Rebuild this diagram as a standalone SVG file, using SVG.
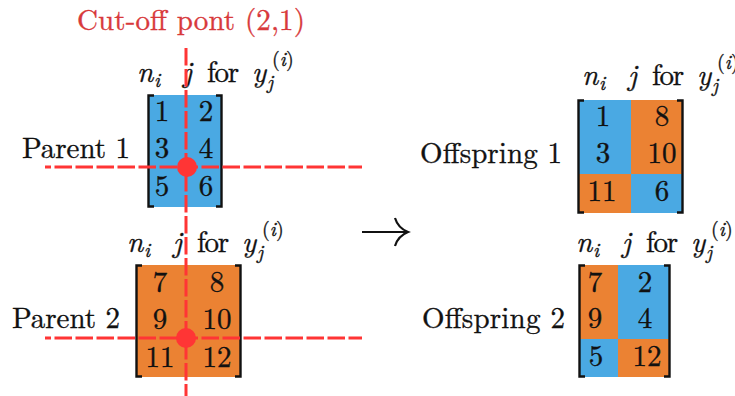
<svg xmlns="http://www.w3.org/2000/svg" width="735" height="396" viewBox="0 0 735 396" font-family="Latin Modern Roman, Liberation Serif, serif">
<defs>
<style>
text{fill:#111;stroke:#111;stroke-width:0.35}
.t{font-size:29px}
.num{font-size:29px;text-anchor:middle}
.it{font-style:italic}
.sm{font-size:20px}
.title{fill:#d8393b;stroke:#d8393b;font-size:29px}
.blue{fill:#4aa9e3}
.orange{fill:#eb8233}
.br{fill:none;stroke:#111;stroke-width:2.4}
.cut{fill:none;stroke:#ff3535;stroke-width:3;stroke-dasharray:17.5 3.5}
.dot{fill:#ff3535}
.arrow{fill:none;stroke:#111;stroke-width:2.2}
</style>
<g id="lbl">
<text x="0" y="0" class="t it">n</text>
<text x="17" y="5" class="sm it">i</text>
<text x="46" y="0" class="t it">j</text>
<text x="70" y="0" class="t" textLength="32">for</text>
<text x="115" y="0" class="t it">y</text>
<text x="130" y="7" class="sm it">j</text>
<text x="135" y="-16" class="sm">(<tspan class="it">i</tspan>)</text>
</g>
</defs>

<text id="title" x="77" y="30" class="title" textLength="228">Cut-off pont (2,1)</text>

<g id="parent1">
<text x="22" y="158" class="t" textLength="108">Parent 1</text>
<use href="#lbl" x="137" y="82"/>
<rect x="148" y="95" width="74" height="112" class="blue"/>
<path class="br" d="M154,95.5H148.5V206.5H154M216,95.5H221.5V206.5H216"/>
<text x="162" y="121" class="num">1</text>
<text x="206" y="121" class="num">2</text>
<text x="162" y="158" class="num">3</text>
<text x="206" y="158" class="num">4</text>
<text x="162" y="196" class="num">5</text>
<text x="206" y="196" class="num">6</text>
</g>

<g id="parent2">
<text x="12" y="328" class="t" textLength="108">Parent 2</text>
<use href="#lbl" x="127" y="252"/>
<rect x="136" y="265" width="105" height="112" class="orange"/>
<path class="br" d="M142,265.5H136.5V376.5H142M235,265.5H240.5V376.5H235"/>
<text x="160" y="292" class="num">7</text>
<text x="217" y="292" class="num">8</text>
<text x="160" y="329" class="num">9</text>
<text x="217" y="329" class="num">10</text>
<text x="160" y="367" class="num">11</text>
<text x="217" y="367" class="num">12</text>
</g>

<g id="offspring1">
<text x="420" y="163" class="t" textLength="142">Offspring 1</text>
<use href="#lbl" x="582" y="85"/>
<rect x="578" y="100" width="53" height="74" class="blue"/>
<rect x="631" y="100" width="52" height="74" class="orange"/>
<rect x="578" y="174" width="53" height="39" class="orange"/>
<rect x="631" y="174" width="52" height="39" class="blue"/>
<path class="br" d="M584,100.5H578.5V212.5H584M677,100.5H682.5V212.5H677"/>
<text x="603" y="126" class="num">1</text>
<text x="662" y="126" class="num">8</text>
<text x="603" y="163" class="num">3</text>
<text x="662" y="163" class="num">10</text>
<text x="602" y="201" class="num">11</text>
<text x="662" y="201" class="num">6</text>
</g>

<g id="offspring2">
<text x="422" y="328" class="t" textLength="143">Offspring 2</text>
<use href="#lbl" x="576" y="252"/>
<rect x="579" y="265" width="39" height="74" class="orange"/>
<rect x="618" y="265" width="52" height="74" class="blue"/>
<rect x="579" y="339" width="39" height="38" class="blue"/>
<rect x="618" y="339" width="52" height="38" class="orange"/>
<path class="br" d="M585,265.5H579.5V376.5H585M664,265.5H669.5V376.5H664"/>
<text x="595" y="292" class="num">7</text>
<text x="645" y="292" class="num">2</text>
<text x="595" y="328" class="num">9</text>
<text x="645" y="328" class="num">4</text>
<text x="596" y="366" class="num">5</text>
<text x="647" y="366" class="num">12</text>
</g>

<g id="connectors">
<path class="cut" d="M186,48V396"/>
<path class="cut" stroke-dashoffset="11.5" d="M45,167H362"/>
<path class="cut" stroke-dashoffset="11.5" d="M45,338H362"/>
<circle class="dot" cx="187" cy="167" r="10"/>
<circle class="dot" cx="186" cy="338" r="10"/>
<path class="arrow" d="M362,232H407M395,218Q398,228 408,232Q398,236 395,246"/>
</g>
</svg>
